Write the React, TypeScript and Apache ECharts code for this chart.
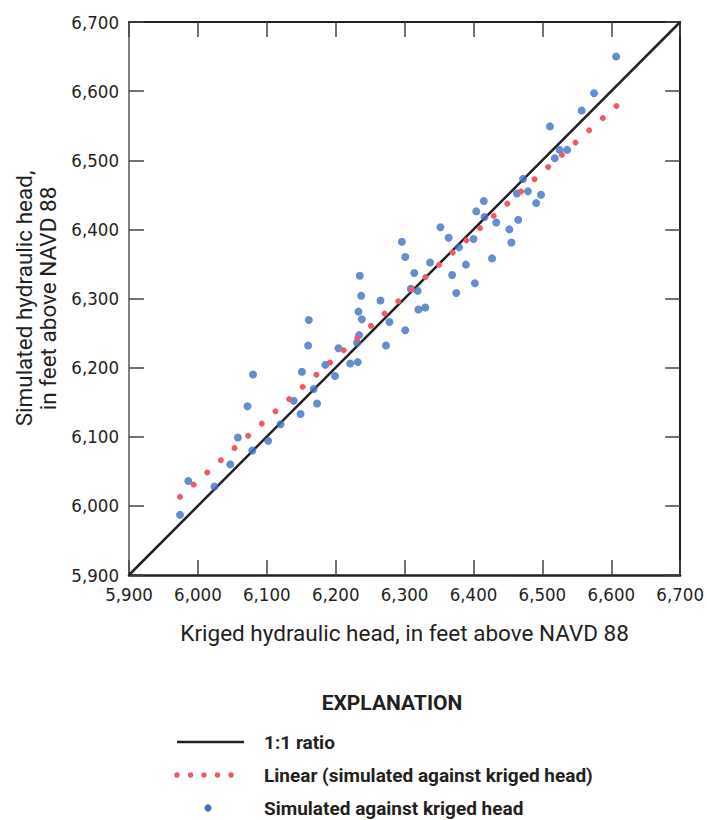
import React, { useEffect, useRef } from "react";
import * as echarts from "echarts";

// Kriged (x) and simulated (y) hydraulic heads, feet above NAVD 88
const krigedHead = [
  5974, 5986, 6024, 6047, 6058, 6072, 6080, 6079, 6102, 6120, 6139, 6149, 6151, 6160, 6161, 6168, 6173,
  6185, 6199, 6204, 6221, 6232, 6231, 6234, 6235, 6237, 6233, 6238, 6265, 6273, 6278, 6296, 6301, 6301,
  6314, 6309, 6319, 6320, 6330, 6337, 6352, 6364, 6369, 6375, 6379, 6389, 6400, 6402, 6404, 6415, 6416,
  6427, 6433, 6452, 6455, 6463, 6465, 6472, 6479, 6491, 6498, 6511, 6518, 6525, 6536, 6557, 6575, 6607,
];
const simulatedHead = [
  5987, 6036, 6028, 6060, 6099, 6144, 6190, 6080, 6094, 6118, 6152, 6133, 6194, 6232, 6269, 6169, 6148,
  6204, 6188, 6228, 6206, 6208, 6236, 6247, 6333, 6304, 6281, 6270, 6297, 6232, 6266, 6382, 6360, 6254,
  6337, 6314, 6311, 6284, 6287, 6352, 6403, 6388, 6334, 6308, 6374, 6349, 6386, 6322, 6426, 6441, 6418,
  6358, 6410, 6400, 6381, 6452, 6414, 6473, 6455, 6438, 6450, 6549, 6503, 6515, 6515, 6572, 6597, 6650,
];
// 1:1 ratio line end points
const ratioLineX = [5900, 6700];
const ratioLineY = [5900, 6700];
// Linear fit (simulated against kriged head) end points
const linearFitX = [5974, 6608];
const linearFitY = [6013, 6579];
// Axis ticks
const axisMin = 5900;
const axisMax = 6700;
const axisStep = 100;

const xTitle = "Kriged hydraulic head, in feet above NAVD 88";
const yTitle = "Simulated hydraulic head,\nin feet above NAVD 88";
const legendTitle = "EXPLANATION";
const legendLabels = ["1:1 ratio", "Linear (simulated against kriged head)", "Simulated against kriged head"];

const INK = "#231f20";
const BLUE = "#4070c2";
const RED = "#ef5a66";
const NARROW = "'DejaVu Sans Condensed', 'DejaVu Sans', sans-serif";
const TEXT = "Roboto, 'Liberation Sans', sans-serif";

const fmt = (v: number) => v.toLocaleString("en-US");

export default function App() {
  const ref = useRef<HTMLDivElement>(null);
  useEffect(() => {
    if (!ref.current) return;
    const chart = echarts.init(ref.current, null, { renderer: "svg" });
    const points = krigedHead.map((x, i) => [x, simulatedHead[i]]);
    const baseAxis = {
      type: "value" as const,
      min: axisMin,
      max: axisMax,
      interval: axisStep,
      splitLine: { show: false },
      axisTick: { show: true, inside: true, length: 15, lineStyle: { color: "#444", width: 1.5 } },
    };
    chart.setOption({
      animation: false,
      backgroundColor: "#fff",
      grid: { left: 129, right: 24, top: 22, bottom: 245, containLabel: false },
      xAxis: [
        {
          ...baseAxis,
          position: "bottom",
          axisLine: { show: true, onZero: false, lineStyle: { color: INK, width: 2.5 } },
          axisLabel: { formatter: fmt, fontFamily: NARROW, fontSize: 18.5, color: INK, margin: 10 },
          name: xTitle,
          nameLocation: "middle",
          nameGap: 46,
          nameTextStyle: { fontFamily: TEXT, fontSize: 22.5, color: INK },
        },
        {
          ...baseAxis,
          position: "top",
          axisLine: { show: true, onZero: false, lineStyle: { color: INK, width: 2 } },
          axisLabel: { show: false },
        },
      ],
      yAxis: [
        {
          ...baseAxis,
          position: "left",
          axisLine: { show: true, onZero: false, lineStyle: { color: "#555", width: 1.5 } },
          axisLabel: { formatter: fmt, fontFamily: NARROW, fontSize: 18.5, color: INK, margin: 10 },
          name: yTitle,
          nameLocation: "middle",
          nameGap: 63,
          nameTextStyle: { fontFamily: TEXT, fontSize: 22.5, color: INK, lineHeight: 24 },
        },
        {
          ...baseAxis,
          position: "right",
          axisLine: { show: true, onZero: false, lineStyle: { color: INK, width: 2 } },
          axisLabel: { show: false },
        },
      ],
      series: [
        {
          name: "1:1 ratio",
          type: "line",
          data: ratioLineX.map((x, i) => [x, ratioLineY[i]]),
          symbol: "none",
          lineStyle: { color: INK, width: 2.5 },
          z: 2,
        },
        {
          name: "Simulated against kriged head",
          type: "scatter",
          data: points,
          symbolSize: 8,
          itemStyle: { color: BLUE },
          z: 3,
        },
        {
          name: "Linear (simulated against kriged head)",
          type: "line",
          data: linearFitX.map((x, i) => [x, linearFitY[i]]),
          symbol: "none",
          lineStyle: { color: RED, width: 5.8, type: [0.01, 18.3], cap: "round" },
          z: 4,
        },
      ],
      graphic: [
        {
          type: "text",
          x: 392,
          y: 703,
          style: { text: legendTitle, font: `bold 21px ${TEXT}`, fill: INK, align: "center", verticalAlign: "middle" },
        },
        {
          type: "line",
          shape: { x1: 177, y1: 742, x2: 244, y2: 742 },
          style: { stroke: INK, lineWidth: 2.5 },
        },
        {
          type: "line",
          shape: { x1: 177, y1: 775, x2: 232, y2: 775 },
          style: { stroke: RED, lineWidth: 5.3, lineDash: [0.01, 13.5], lineCap: "round" },
        },
        {
          type: "circle",
          shape: { cx: 208, cy: 808, r: 3.6 },
          style: { fill: BLUE },
        },
        ...legendLabels.map((t, i) => ({
          type: "text",
          x: 264,
          y: 742 + i * 33,
          style: { text: t, font: `bold 19px ${TEXT}`, fill: INK, align: "left", verticalAlign: "middle" },
        })),
      ],
    });
    return () => chart.dispose();
  }, []);
  return (
    <div
      ref={ref}
      style={{ position: "absolute", left: 0, top: 0, width: 707, height: 820, background: "#fff" }}
    />
  );
}
